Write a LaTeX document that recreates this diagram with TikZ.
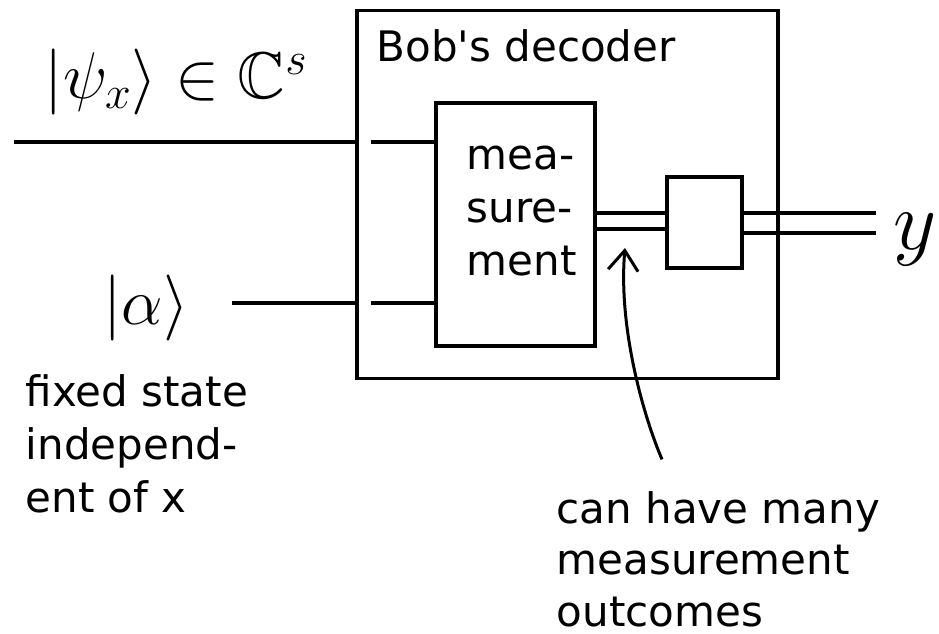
\RequirePackage{fix-cm}
\documentclass[tikz,border=0pt]{standalone}
\usepackage{amsmath,amssymb}
\usepackage{fontspec}
\setmainfont{DejaVu Sans}
\usetikzlibrary{arrows.meta,calc}

\begin{document}
\begin{tikzpicture}[x=1pt,y=-1pt,line width=3.5pt,
    box/.style={draw,rectangle,inner sep=0pt},
    txt/.style={inner sep=0pt,align=left,font=\fontsize{42}{53}\selectfont},
    hand/.style={inner sep=0pt}]
        \useasboundingbox (0,0) rectangle (939,634);

        % Bob's decoder
        \node[box,minimum width=421pt,minimum height=368pt] (dec) at (567.5,194.5) {};
        \node[txt,anchor=base west] (title) at (375,62) {Bob\textquotesingle s decoder};

        % Measurement and second box
        \node[box,minimum width=159pt,minimum height=243pt] (meas) at (515.5,224.5) {};
        \node[txt,anchor=base west] (meastext) at (465,275) {mea-\\sure-\\ment};
        \node[box,minimum width=75pt,minimum height=91pt] (proc) at (704.5,222.5) {};

        % Inputs
        \node[hand,font=\fontsize{66}{66}\selectfont] (psi) at (176,82) {$|\psi_x\rangle \in \mathbb{C}^s$};
        \node[hand,font=\fontsize{66}{66}\selectfont] (alpha) at (146,308) {$|\alpha\rangle$};
        \coordinate (inA) at (14,142);
        \coordinate (inB) at (232,303);
        \foreach \i in {A,B} {
            \draw (in\i) -- (in\i -| dec.west);
            \draw ($(in\i -| dec.west)+(16,0)$) -- (in\i -| meas.west);
        }

        % Classical wires
        \foreach \w in {213,229} {
            \draw (meas.east |- 0,\w) -- (proc.west |- 0,\w);
        }
        \coordinate (outA) at (876,213);
        \coordinate (outB) at (876,233);
        \draw (proc.east |- outA) -- (outA);
        \draw (proc.east |- outB) -- (outB);
        \node[hand,font=\fontsize{84}{84}\selectfont] (y) at (915,240) {$y$};

        % Notes
        \node[txt,anchor=base west] (fixed) at (24,512) {fixed state\\independ-\\ent of x};
        \node[txt,anchor=base west,font=\fontsize{42}{51.5}\selectfont] (note) at (555,626) {can have many\\measurement\\outcomes};
        \coordinate (tip) at (625,248);
        \draw[line width=3pt,-{Straight Barb[length=20pt,width=30pt]}]
            ($(note.north west)+(107,-30)$) .. controls (645,420) and (618,330) .. (tip);
\end{tikzpicture}
\end{document}
